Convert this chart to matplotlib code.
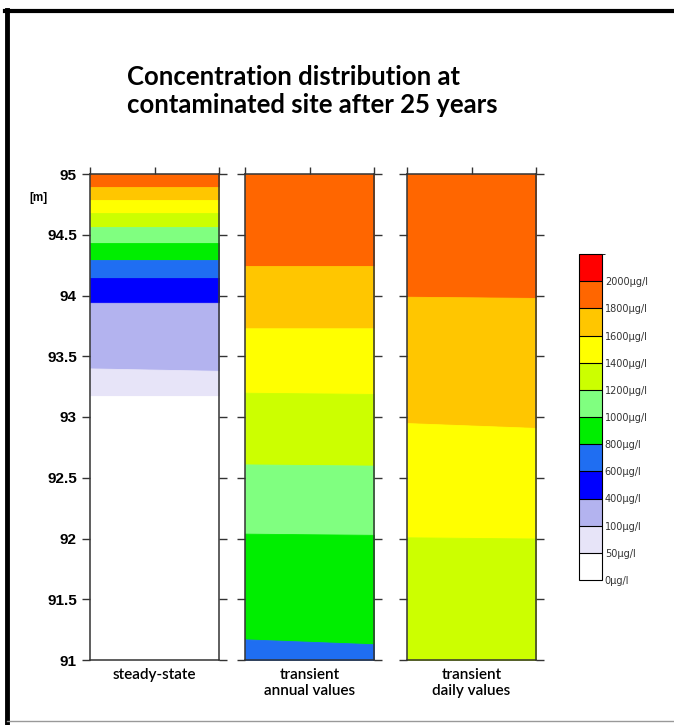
import matplotlib.pyplot as plt
import numpy as np
from matplotlib.colors import ListedColormap, BoundaryNorm
from matplotlib.cm import ScalarMappable
from matplotlib.lines import Line2D

# concentration classes in µg/l (last bound only closes the top class)
levels = [0, 50, 100, 400, 600, 800, 1000, 1200, 1400, 1600, 1800, 2000, 2200]
level_labels = ["0µg/l", "50µg/l", "100µg/l", "400µg/l", "600µg/l", "800µg/l",
                "1000µg/l", "1200µg/l", "1400µg/l", "1600µg/l", "1800µg/l", "2000µg/l"]
class_colors = ["#ffffff", "#e7e4f8", "#b3b3ef", "#0000ff", "#1f6ef2", "#00ee00",
                "#80ff80", "#ccff00", "#ffff00", "#ffc600", "#ff6600", "#ff0000"]

# class index of every band from top to bottom,
# band boundaries [m] at the left and right edge of the column
steady_classes = [10, 9, 8, 7, 6, 5, 4, 3, 2, 1, 0]
steady_left = [94.89, 94.79, 94.68, 94.56, 94.43, 94.29, 94.14, 93.94, 93.40, 93.17]
steady_right = [94.89, 94.79, 94.68, 94.56, 94.43, 94.29, 94.14, 93.94, 93.38, 93.17]

annual_classes = [10, 9, 8, 7, 6, 5, 4]
annual_left = [94.24, 93.73, 93.20, 92.61, 92.04, 91.17]
annual_right = [94.24, 93.73, 93.19, 92.60, 92.03, 91.13]

daily_classes = [10, 9, 8, 7]
daily_left = [93.99, 92.95, 92.01]
daily_right = [93.98, 92.91, 92.00]

column_names = ["steady-state", "transient\nannual values", "transient\ndaily values"]
y_top = 95
y_bottom = 91


#一列画出来
def draw_column(ax, classes, left, right):
    for i, c in enumerate(classes):
        up_l = y_top if i == 0 else left[i - 1]
        up_r = y_top if i == 0 else right[i - 1]
        lo_l = left[i] if i < len(left) else y_bottom
        lo_r = right[i] if i < len(right) else y_bottom
        ax.fill_between([0, 1], [lo_l, lo_r], [up_l, up_r],
                        facecolor=class_colors[c], edgecolor=class_colors[c],
                        linewidth=0.6)
    ax.set_xlim(0, 1)
    ax.set_ylim(y_bottom, y_top)
    ax.set_yticks(np.arange(91, 95.01, 0.5))
    ax.set_xticks([0, 0.5, 1])
    ax.tick_params(axis="y", direction="out", left=True, right=True,
                   length=6, width=1, color="#333333", labelleft=False)
    ax.tick_params(axis="x", direction="out", top=True, bottom=False,
                   length=5, width=1, color="#333333",
                   labeltop=False, labelbottom=False)
    for s in ax.spines.values():
        s.set_color("#333333")
        s.set_linewidth(1.1)
        s.set_zorder(5)


fig = plt.figure(figsize=(6.74, 7.25), dpi=100)

W, H = 674, 725
panels = [(90, steady_classes, steady_left, steady_right),
          (245, annual_classes, annual_left, annual_right),
          (407, daily_classes, daily_left, daily_right)]
axes = []
for x0, cl, le, ri in panels:
    ax = fig.add_axes([x0 / W, 1 - 660 / H, 129 / W, 486 / H])
    draw_column(ax, cl, le, ri)
    axes.append(ax)

# y labels only on the first column
axes[0].tick_params(labelleft=True)
axes[0].set_yticklabels(["91", "91.5", "92", "92.5", "93", "93.5", "94", "94.5", "95"],
                        fontsize=11, fontweight="bold", family="Liberation Sans")
fig.text(38 / W, 1 - 198 / H, "[m]", fontsize=8.5, fontweight="bold",
         family="Liberation Sans", ha="center", va="center")

# column names below
for ax, name in zip(axes, column_names):
    pos = ax.get_position()
    fig.text(pos.x0 + pos.width / 2, 1 - 668 / H, name, ha="center", va="top",
             fontsize=11, family="Lato", fontweight="semibold", linespacing=1.15)

# legend
cmap = ListedColormap(class_colors)
norm = BoundaryNorm(levels, cmap.N)
cax = fig.add_axes([579 / W, 1 - 580 / H, 23 / W, 326 / H])
cb = fig.colorbar(ScalarMappable(norm=norm, cmap=cmap), cax=cax,
                  ticks=levels[:-1], spacing="uniform", drawedges=True)
cb.set_ticklabels(level_labels)
cb.ax.tick_params(length=0, labelsize=7, labelcolor="#333333", pad=2)
cb.outline.set_linewidth(0.8)
cb.dividers.set_linewidth(0.8)

# title
fig.text(127 / W, 1 - 91 / H, "Concentration distribution at\ncontaminated site after 25 years",
         ha="left", va="center", fontsize=18.5, fontweight="bold", family="Lato",
         linespacing=1.2)

# black frame on left and top
fig.add_artist(Line2D([7 / W, 7 / W], [0, 1 - 10 / H], color="black", linewidth=3.5))
fig.add_artist(Line2D([5 / W, 1], [1 - 11 / H, 1 - 11 / H], color="black", linewidth=3))
fig.add_artist(Line2D([7 / W, 1], [1 - 721 / H, 1 - 721 / H], color="#999999", linewidth=1))

plt.savefig("out.png", dpi=100)
